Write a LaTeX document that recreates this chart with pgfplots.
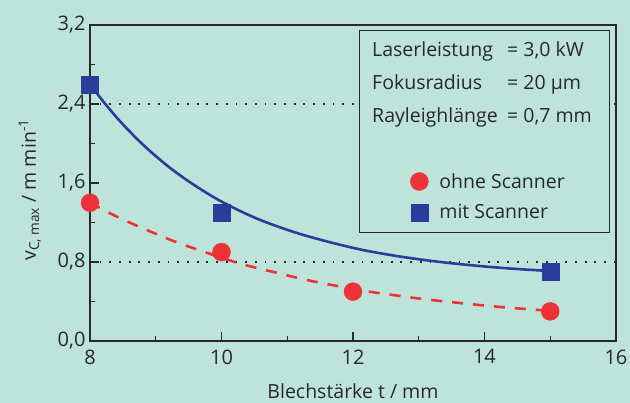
\documentclass[border=0pt]{standalone}
\usepackage{fontspec}
\setmainfont{Open Sans}
\usepackage{pgfplots}
\pgfplotsset{compat=1.18}
\definecolor{bg}{RGB}{190,227,218}
\definecolor{myblue}{RGB}{42,61,155}
\definecolor{myred}{RGB}{238,51,56}
\definecolor{txt}{RGB}{40,40,40}
\begin{document}
\begin{tikzpicture}[x=1pt,y=1pt]
\fill[bg] (0,0) rectangle (630,403);
\useasboundingbox (0,0) rectangle (630,403);
\begin{axis}[
  at={(90pt,62pt)}, anchor=south west,
  scale only axis, width=526pt, height=316pt,
  xmin=8, xmax=16, ymin=0, ymax=3.2,
  xtick={8,10,12,14,16}, ytick={0,0.8,1.6,2.4,3.2},
  minor x tick num=1, minor y tick num=1,
  tick align=inside, tick pos=left,
  major tick length=9pt, minor tick length=5pt,
  axis line style={line width=1.3pt, color=txt},
  every tick/.style={line width=1.3pt, color=txt},
  /pgf/number format/assume math mode=true,
  tick label style={font=\fontsize{20}{20}\selectfont, text=txt},
  xticklabel style={yshift=-5pt},
  yticklabel style={xshift=-1pt, /pgf/number format/.cd, use comma, fixed, fixed zerofill, precision=1},
  label style={font=\fontsize{19.5}{19.5}\selectfont, text=txt},
  xlabel={Blechstärke t / mm},
  xlabel shift=13pt,
  ylabel={v\textsubscript{C, max} / m min\textsuperscript{-1}},
  ylabel shift=10pt,
  ylabel style={xshift=-7pt},
  clip=false,
  legend style={draw=none, fill=none, at={(axis cs:12.87,1.72)}, anchor=north west,
    font=\fontsize{19.5}{19.5}\selectfont, text=txt, row sep=11pt, inner sep=0pt},
  legend cell align=left,
]
\addplot[txt, line width=1.5pt, dash pattern=on 1.8pt off 7.9pt, forget plot] coordinates {(8,2.4) (16,2.4)};
\addplot[txt, line width=1.5pt, dash pattern=on 1.8pt off 7.9pt, forget plot] coordinates {(8,0.8) (16,0.8)};
\draw[line width=1pt, color=txt, fill=bg] (axis cs:12.106,1.094) rectangle (axis cs:15.894,3.142);
\addplot[myred, line width=2.6pt, dash pattern=on 11pt off 10pt, smooth, forget plot] coordinates {
(8,1.40)(8.43,1.252)(8.86,1.125)(9.27,1.012)(9.65,0.922)(10.18,0.805)(10.52,0.742)(10.87,0.686)(11.20,0.632)(11.56,0.582)(12.0,0.528)(12.28,0.496)(12.64,0.463)(12.98,0.432)(13.32,0.406)(13.68,0.381)(14.03,0.357)(14.39,0.336)(14.79,0.316)(15,0.305)};
\addplot[myblue, line width=2.6pt, smooth, forget plot] coordinates {
(8,2.600)(8.2,2.427)(8.43,2.245)(8.7,2.056)(8.94,1.907)(9.2,1.762)(9.445,1.642)(9.7,1.530)(9.95,1.430)(10.3,1.311)(10.64,1.212)(11.14,1.095)(11.65,1.000)(12.16,0.920)(12.66,0.861)(13.1,0.819)(13.53,0.785)(14.03,0.753)(14.54,0.727)(15,0.709)};
\addplot[only marks, mark=*, mark size=9pt, color=myred, mark options={draw=none, fill=myred}] coordinates {(8,1.4)(10,0.9)(12,0.5)(15,0.3)};
\addlegendentry{\hspace{9pt}ohne Scanner}
\addplot[only marks, mark=square*, mark size=8.5pt, color=myblue, mark options={draw=none, fill=myblue}] coordinates {(8,2.6)(10,1.3)(15,0.7)};
\addlegendentry{\hspace{9pt}mit Scanner}
\end{axis}
\begin{scope}[font=\fontsize{19.5}{19.5}\selectfont, text=txt]
\node[anchor=base west, inner sep=0] at (372,346.3) {Laserleistung};
\node[anchor=base west, inner sep=0] at (372,313) {Fokusradius};
\node[anchor=base west, inner sep=0] at (372,280.3) {Rayleighlänge};
\node[anchor=base west, inner sep=0] at (507,346.3) {= 3,0 kW};
\node[anchor=base west, inner sep=0] at (507,313) {= 20 µm};
\node[anchor=base west, inner sep=0] at (507,280.3) {= 0,7 mm};
\end{scope}
\end{tikzpicture}
\end{document}
